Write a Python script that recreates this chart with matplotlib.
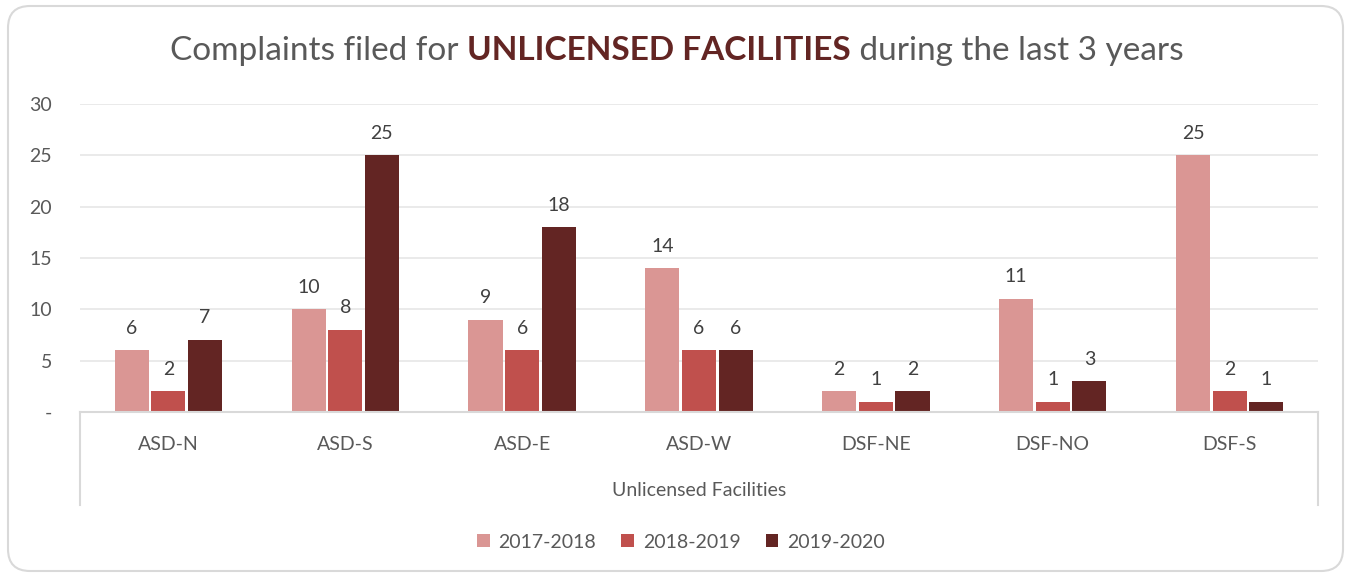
import matplotlib
matplotlib.use("Agg")
import matplotlib.pyplot as plt
import numpy as np
from matplotlib.patches import FancyBboxPatch
from matplotlib.transforms import IdentityTransform
from matplotlib.offsetbox import TextArea, HPacker, AnchoredOffsetbox

plt.rcParams["font.family"] = ["Lato", "DejaVu Sans"]

categories = ["ASD-N", "ASD-S", "ASD-E", "ASD-W", "DSF-NE", "DSF-NO", "DSF-S"]
series_names = ["2017-2018", "2018-2019", "2019-2020"]
y_2017 = [6, 10, 9, 14, 2, 11, 25]
y_2018 = [2, 8, 6, 6, 1, 1, 2]
y_2019 = [7, 25, 18, 6, 2, 3, 1]
group_label = "Unlicensed Facilities"
yticks = [0, 5, 10, 15, 20, 25, 30]
ytick_labels = ["-", "5", "10", "15", "20", "25", "30"]

colors = ["#DA9694", "#C0504D", "#632523"]
text_col = "#595959"
grid_col = "#E6E6E6"
axis_col = "#D9D9D9"

W, H = 1351, 575
fig = plt.figure(figsize=(W / 100, H / 100), dpi=100)

# rounded outer frame (pixel coords)
frame = FancyBboxPatch((8, 4), 1335, 565, boxstyle="round,pad=0,rounding_size=22",
                       transform=IdentityTransform(), facecolor="white",
                       edgecolor=axis_col, lw=1.5, zorder=-5)
fig.patches.append(frame)

left, right, top, bottom = 80, 1318, 104, 412
ax = fig.add_axes([left / W, 1 - bottom / H, (right - left) / W, (bottom - top) / H])
ax.set_facecolor("none")
ax.set_zorder(2)

x = np.arange(len(categories))
step = 0.207
width = 0.193
for i, (vals, c, name) in enumerate(zip([y_2017, y_2018, y_2019], colors, series_names)):
    pos = x + (i - 1) * step
    ax.bar(pos, vals, width=width, color=c, label=name, zorder=2)
    for xi, v in zip(pos, vals):
        ax.annotate(str(v), (xi, v), xytext=(0, 12), textcoords="offset points",
                    ha="center", va="baseline", fontsize=14, color="#404040")

ax.set_xlim(-0.5, len(categories) - 0.5)
ax.set_ylim(0, 30)
ax.set_yticks(yticks)
ax.set_yticklabels(ytick_labels, fontsize=14, color=text_col)
ax.tick_params(axis="y", length=0, pad=20)
ax.set_xticks([])
for s in ["top", "right", "left"]:
    ax.spines[s].set_visible(False)
ax.spines["bottom"].set_color(axis_col)
ax.spines["bottom"].set_linewidth(1.5)
ax.yaxis.grid(True, color=grid_col, lw=1.2, zorder=0)
ax.set_axisbelow(True)

# multi-level category axis
box_depth = (505 - 412) / (412 - 104)
for xa in [0, 1]:
    ax.plot([xa, xa], [0, -box_depth], transform=ax.transAxes, color=axis_col,
            lw=1.5, clip_on=False)
lab_y = -(445 - 412) / (412 - 104)
for xi, cat in zip(x, categories):
    ax.text(xi, lab_y, cat, transform=ax.get_xaxis_transform(), ha="center",
            va="center", fontsize=14, color=text_col)
ax.text(0.5, -(490 - 412) / (412 - 104), group_label, transform=ax.transAxes,
        ha="center", va="center", fontsize=14, color=text_col)

# legend
ax.legend(loc="center", bbox_to_anchor=(681 / W, 1 - 542 / H),
          bbox_transform=fig.transFigure, ncol=3, frameon=False, fontsize=14,
          handlelength=0.65, handleheight=0.65, handletextpad=0.45,
          columnspacing=1.3, labelcolor=text_col)

# title with mixed formatting
parts = [
    TextArea("Complaints filed for ", textprops=dict(fontsize=24, color=text_col)),
    TextArea("UNLICENSED FACILITIES", textprops=dict(fontsize=24, color="#632523",
                                                    fontweight="bold")),
    TextArea(" during the last 3 years", textprops=dict(fontsize=24, color=text_col)),
]
title_box = HPacker(children=parts, align="baseline", pad=0, sep=0)
anch = AnchoredOffsetbox(loc="center", child=title_box, pad=0, frameon=False,
                         bbox_to_anchor=(677 / W, 1 - 51 / H),
                         bbox_transform=fig.transFigure, borderpad=0)
fig.add_artist(anch)

fig.savefig("out.png", dpi=100, facecolor="white")
